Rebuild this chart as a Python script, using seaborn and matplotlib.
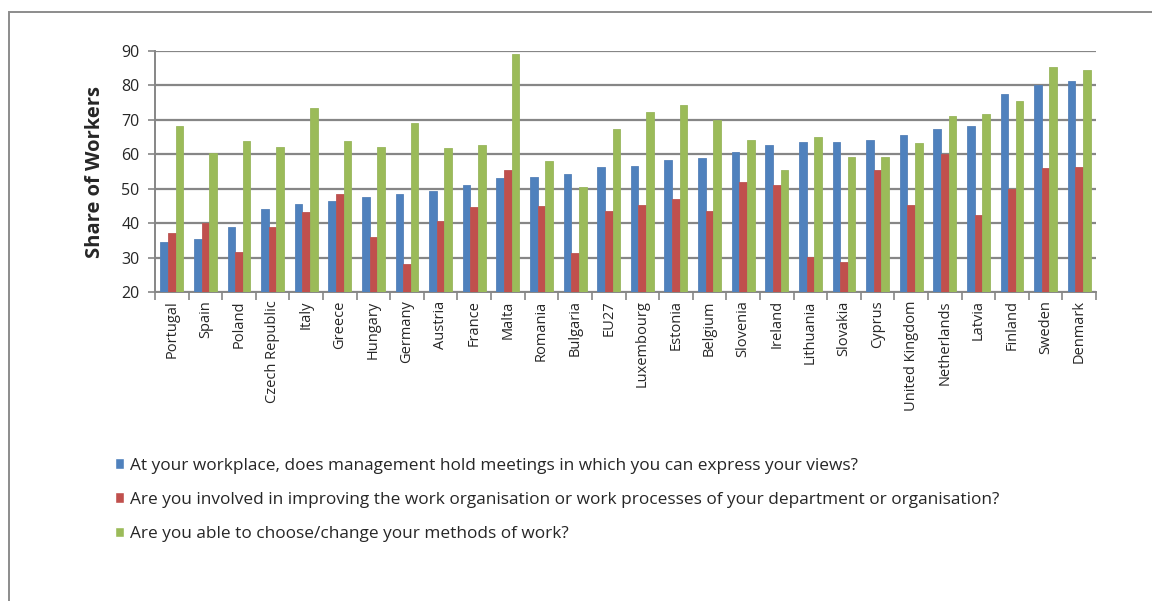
import matplotlib
matplotlib.use("Agg")
import matplotlib.pyplot as plt
import matplotlib.patches as mpatches
from matplotlib.ticker import FixedLocator, MultipleLocator
import seaborn as sns
import pandas as pd
import numpy as np

# ---------------- data ----------------
countries = ["Portugal", "Spain", "Poland", "Czech Republic", "Italy", "Greece",
             "Hungary", "Germany", "Austria", "France", "Malta", "Romania",
             "Bulgaria", "EU27", "Luxembourg", "Estonia", "Belgium", "Slovenia",
             "Ireland", "Lithuania", "Slovakia", "Cyprus", "United Kingdom",
             "Netherlands", "Latvia", "Finland", "Sweden", "Denmark"]

meetings = [34.5, 35.3, 39.0, 44.0, 45.5, 46.5, 47.5, 48.5, 49.2, 51.0, 53.2, 53.4,
            54.2, 56.4, 56.6, 58.3, 58.9, 60.6, 62.6, 63.6, 63.6, 64.1, 65.5,
            67.2, 68.2, 77.4, 80.2, 81.4]
improving = [37.0, 40.0, 31.5, 39.0, 43.2, 48.5, 36.0, 28.0, 40.5, 44.8, 55.3, 45.0,
             31.3, 43.5, 45.4, 47.1, 43.4, 52.0, 51.2, 30.3, 28.8, 55.3, 45.2,
             60.2, 42.3, 49.8, 56.0, 56.3]
methods = [68.3, 60.3, 64.0, 62.0, 73.3, 63.8, 62.2, 69.2, 61.8, 62.6, 89.0, 58.0,
           50.5, 67.3, 72.4, 74.2, 70.0, 64.1, 55.3, 64.9, 59.1, 59.1, 63.4,
           71.0, 71.8, 75.5, 85.3, 84.6]

series_names = [
    "At your workplace, does management hold meetings in which you can express your views?",
    "Are you involved in improving the work organisation or work processes of your department or organisation?",
    "Are you able to choose/change your methods of work?",
]
colors = ["#4F81BD", "#C0504D", "#9BBB59"]

df = pd.DataFrame({
    "country": countries * 3,
    "value": meetings + improving + methods,
    "series": [series_names[0]] * len(countries) + [series_names[1]] * len(countries)
              + [series_names[2]] * len(countries),
})

# ---------------- figure ----------------
sns.set_style("white")
plt.rcParams["font.family"] = ["Open Sans", "DejaVu Sans"]

W, H = 1152, 601
fig = plt.figure(figsize=(W / 100, H / 100), dpi=100)

left, right, top, bottom = 155, 1096, 51, 292
ax = fig.add_axes([left / W, 1 - bottom / H, (right - left) / W, (bottom - top) / H])

sns.barplot(data=df, x="country", y="value", hue="series", order=countries,
            hue_order=series_names, palette=colors, width=0.68, dodge=True,
            saturation=1, errorbar=None, ax=ax, legend=True, zorder=3)

for bar, c in zip(ax.patches, [c for c in colors for _ in countries]):
    bar.set_edgecolor(sns.desaturate(c, 0.9))
    bar.set_linewidth(0.6)

ax.set_ylim(20, 90)
ax.set_xlim(-0.5, len(countries) - 0.5)
ax.yaxis.set_major_locator(MultipleLocator(10))
ax.grid(axis="y", color="#868686", linewidth=1.6, zorder=0)
ax.set_axisbelow(True)

for s in ["top", "right"]:
    ax.spines[s].set_visible(False)
for s in ["left", "bottom"]:
    ax.spines[s].set_color("#868686")
    ax.spines[s].set_linewidth(1.4)

ax.tick_params(axis="y", which="major", length=5, width=1.2, color="#868686",
               labelsize=11.5, pad=6, direction="out", left=True)
ax.tick_params(axis="x", which="major", length=0, labelsize=10.5, pad=6,
               labelrotation=90)
ax.xaxis.set_minor_locator(FixedLocator(np.arange(-0.5, len(countries), 1.0)))
ax.tick_params(axis="x", which="minor", length=6, width=1.2, color="#868686",
               direction="out", bottom=True)

ax.set_xlabel("")
ax.set_ylabel("Share of Workers", fontsize=14.5, fontweight="bold", labelpad=12)

# legend below the chart
handles, labels = ax.get_legend_handles_labels()
ax.get_legend().remove()
fig.legend(handles, labels, loc="upper left", bbox_to_anchor=(108 / W, 1 - 451 / H),
           frameon=False, fontsize=12.4, handlelength=0.55, handleheight=0.6,
           handletextpad=0.35, labelspacing=1.05, borderaxespad=0)

# outer frame of the original document figure
fig.patches.append(mpatches.Rectangle((9 / W, -0.05), 1.2, 1 - 12 / H + 0.05,
                                      transform=fig.transFigure, fill=False,
                                      edgecolor="#8c8c8c", linewidth=1.4,
                                      clip_on=False))

fig.savefig("out.png", dpi=100)
